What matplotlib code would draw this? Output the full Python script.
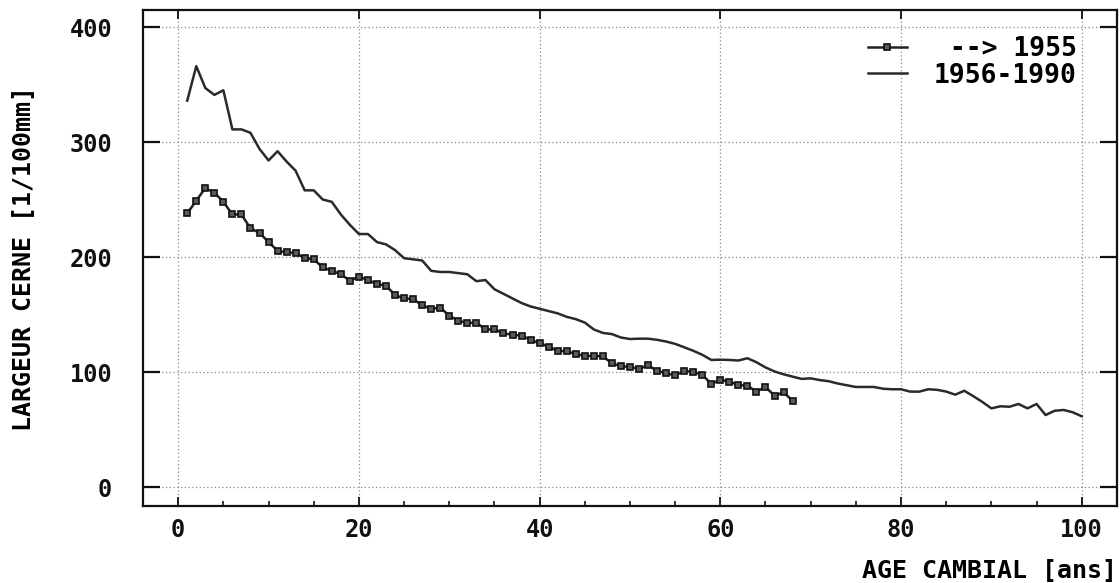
#!/usr/bin/env python3
"""Ring width against cambial age, two periods."""

import matplotlib

matplotlib.use("Agg")
import matplotlib.pyplot as plt
from matplotlib.ticker import MultipleLocator
import numpy as np

# --> 1955 (with markers), ages 1..68
AGE_OLD = np.arange(1, 69)
WIDTH_OLD = [
    238, 249, 260, 256, 248, 237, 237, 225, 221, 213,
    205.5, 204, 203.5, 199, 198, 191, 188, 185, 179.5, 183,
    180, 176.5, 175, 167, 164, 163.5, 158, 155, 156, 149,
    144.6, 142.6, 143, 137, 137, 133.6, 132.5, 131.6, 128, 125,
    122, 118.5, 118, 115.7, 114, 114, 113.6, 107.6, 105, 104.5,
    102.6, 106, 101, 99, 97, 101, 100, 97.7, 89.6, 93.3,
    91.6, 88.7, 88, 83, 87, 79.4, 82.3, 75,
]

# 1956-1990, ages 1..100
AGE_NEW = np.arange(1, 101)
WIDTH_NEW = [
    336, 366, 347, 341, 345, 311, 311, 308, 294, 284,
    292, 283, 275, 258, 258, 250, 248, 237, 228, 220,
    220, 213, 211, 206, 199, 198, 197, 188, 187, 187,
    186, 185, 179, 180, 172, 168, 164, 160, 157, 155,
    153, 151, 148, 146, 143, 137, 134, 133, 130, 128.7,
    129, 129, 128, 126.5, 124.5, 121.5, 118.5, 115, 110.5, 110.7,
    110.5, 110, 112, 108.5, 104, 100.5, 98, 96, 94, 94.5,
    93, 92, 90, 88.5, 87, 87, 87, 85.5, 85, 85,
    83, 82.9, 85, 84.5, 83, 80.3, 83.7, 79, 74, 68.4,
    70.2, 69.8, 72.2, 68.4, 72.2, 62.6, 66.3, 67, 65, 61.5,
]

X_TICKS = [0, 20, 40, 60, 80, 100]
Y_TICKS = [0, 100, 200, 300, 400]

FONT = "DejaVu Sans Mono"


def main():
    fig = plt.figure(figsize=(11.2, 5.83), dpi=100)
    ax = fig.add_axes([0.1274, 0.1321, 0.8699, 0.8507])

    ax.plot(AGE_OLD, WIDTH_OLD, color="#222222", linewidth=1.8,
            marker="s", markersize=5.0, markerfacecolor="#5a5a5a",
            markeredgecolor="#111111", markeredgewidth=1.2,
            label=" --> 1955")
    ax.plot(AGE_NEW, WIDTH_NEW, color="#2a2a2a", linewidth=1.8,
            label="1956-1990")

    ax.set_xlim(-3.93, 103.9)
    ax.set_ylim(-16.5, 414.8)
    ax.set_xticks(X_TICKS)
    ax.set_yticks(Y_TICKS)
    ax.xaxis.set_minor_locator(MultipleLocator(5))

    ax.grid(True, which="major", color="#8a8a8a", linestyle=(0, (1, 2)),
            linewidth=0.9)
    for spine in ax.spines.values():
        spine.set_linewidth(1.6)
        spine.set_color("#111111")

    ax.tick_params(axis="y", which="major", direction="in", length=12.2,
                   width=1.6, left=True, right=True, pad=22,
                   labelsize=17, colors="#111111")
    ax.tick_params(axis="x", which="major", direction="in", length=6.5,
                   width=1.3, bottom=True, top=True, pad=9,
                   labelsize=17, colors="#111111")
    ax.tick_params(axis="x", which="minor", direction="in", length=3.5,
                   width=1.1, bottom=True, top=False)
    for lab in ax.get_xticklabels() + ax.get_yticklabels():
        lab.set_fontfamily(FONT)
        lab.set_fontweight("bold")

    ax.set_xlabel("AGE CAMBIAL [ans]", fontfamily=FONT, fontweight="bold",
                  fontsize=18, ha="right", va="top")
    ax.xaxis.set_label_coords(1.0, -0.107)
    ax.set_ylabel("LARGEUR CERNE [1/100mm]", fontfamily=FONT,
                  fontweight="bold", fontsize=18, va="center")
    ax.yaxis.set_label_coords(-0.122, 0.5)

    leg = ax.legend(loc="upper right", bbox_to_anchor=(0.972, 0.974),
                    frameon=False, handlelength=1.5, handletextpad=1.0,
                    labelspacing=0.02, borderpad=0.0,
                    prop={"family": FONT, "weight": "bold", "size": 19})
    for h in leg.legend_handles:
        h.set_markersize(5)

    fig.savefig("out.png", dpi=100)
    plt.close(fig)


if __name__ == "__main__":
    main()
